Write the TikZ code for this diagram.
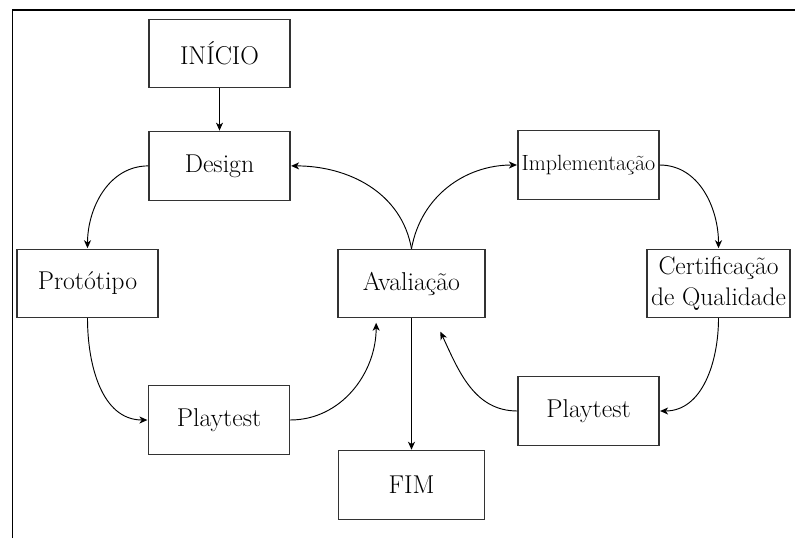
\documentclass[tikz,border=0pt]{standalone}
\usepackage{tikz}
\usetikzlibrary{arrows.meta,positioning}

\begin{document}
\begin{tikzpicture}[->,>={Stealth[length=6.8pt,width=6pt,inset=2pt]},shorten >=0.5pt,x=0.03cm,y=-0.03cm,line width=0.8pt]

    \tikzstyle{box}=[rectangle,draw=black!80,line width=0.9pt,fill=white,text=black,
        minimum width=4.23cm,minimum height=2.05cm,align=center,inner sep=2pt,
        font=\fontsize{22}{28}\selectfont]

    \useasboundingbox (0,0) rectangle (796,538);
    \draw[-,line width=1.1pt] (12.5,538) -- (12.5,10) -- (796,10);

    \node[box]  (inicio)                        at (219.5,53.5) {INÍCIO};
    \node[box]  (design)  [below=1.29cm of inicio]              {Design};
    \node[box]  (proto)                         at (87.5,283.5) {Protótipo};
    \node[box]  (play1)                         at (219,420)    {Playtest};
    \node[box, minimum width=4.41cm] (aval)     at (411.5,283.5) {Avaliação};
    \node[box, minimum width=4.38cm] (fim)      at (411.5,485)  {FIM};
    \node[box, font=\fontsize{18.8}{22}\selectfont] (impl) at (588.5,165) {Implementação};
    \node[box, minimum width=4.29cm, inner sep=1pt, font=\fontsize{21.7}{27}\selectfont] (cert) at (718.5,283.5) {Certificação\\de Qualidade};
    \node[box]  (play2)                         at (588.5,411)  {Playtest};

    \path (inicio) edge (design)
          (design.west) edge [out=180, in=90] (proto.north)
          (proto.south) edge [out=-90, in=180] (play1.west)
          (play1.east)  edge [out=0, in=-90] ([xshift=-1.06cm,yshift=-0.12cm]aval.south)
          (aval.north)  edge [out=100, in=0] (design.east)
          (aval.north)  edge [out=80, in=180] (impl.west)
          (impl.east)   edge [out=0, in=90] (cert.north)
          (cert.south)  edge [out=-90, in=0] (play2.east)
          (play2.west)  edge [out=180, in=-65] ([xshift=0.86cm,yshift=-0.39cm]aval.south)
          (aval) edge (fim)
    ;
\end{tikzpicture}
\end{document}
